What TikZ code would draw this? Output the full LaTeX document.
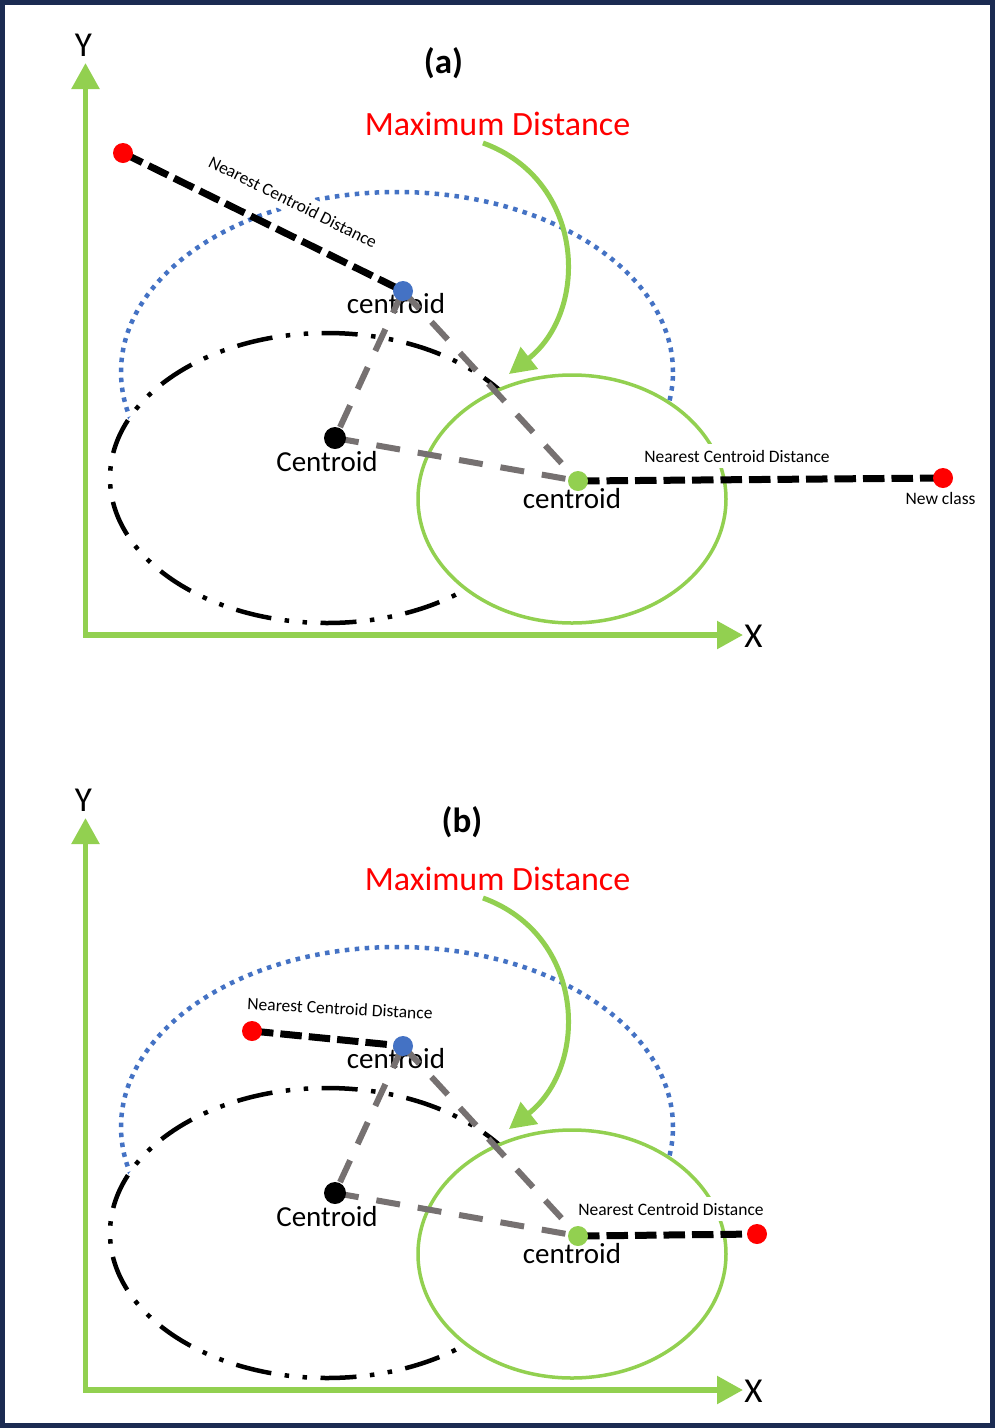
\documentclass[tikz,border=0pt]{standalone}
\usepackage{fontspec}
\setmainfont{Carlito}
\usetikzlibrary{arrows.meta}
\definecolor{framecol}{RGB}{27,43,82}
\definecolor{mygreen}{RGB}{146,208,80}
\definecolor{myblue}{RGB}{68,114,196}
\definecolor{mygray}{RGB}{118,113,113}
\newcommand{\panelbase}[1]{%
  \draw[blueell] (397,372) ellipse [x radius=276pt, y radius=180pt];
  \draw[blackell] (327,478) ellipse [x radius=217pt, y radius=145pt];
  \draw[greenell] (572,499) ellipse [x radius=154pt, y radius=124pt];
  \coordinate (#1o) at (85.5,635);
  \coordinate (#1yt) at (85.5,63);
  \coordinate (#1xt) at (743,635);
  \draw[axisline] (#1yt) -- (#1o) -- (#1xt);
  \node[axlbl] (#1Y) at (83.5,45) {Y};
  \node[axlbl] (#1X) at (753.5,636.5) {X};
  \node[maxlbl] (#1max) at (497.5,124) {Maximum Distance};
  \coordinate (#1ms) at (483,143);
  \coordinate (#1me) at (509,374);
  \draw[maxarrow] (#1ms) .. controls (585,180) and (590,310) .. (#1me);
  \coordinate (#1blue) at (403,291);
  \coordinate (#1cent) at (335,438);
  \coordinate (#1green) at (578,481);
  \node[lbl] (#1lblue) at (396,304) {centroid};
  \node[lbl] (#1lgreen) at (572,499) {centroid};
  \node[lbl] (#1lcent) at (327,462) {Centroid};
  \draw[graydash] (#1blue) -- (#1cent);
  \draw[graydash] (#1cent) -- (#1green);
  \draw[graydash] (#1blue) -- (#1green);
}
\newcommand{\paneldots}[1]{%
  \node[dot, fill=myblue] (#1bluedot) at (#1blue) {};
  \node[dot, fill=black, minimum size=22pt] (#1centdot) at (#1cent) {};
  \node[dot, fill=mygreen] (#1greendot) at (#1green) {};
}
\begin{document}
\begin{tikzpicture}[x=1pt,y=-1pt,
  axisline/.style={mygreen, line width=5.5pt, line join=miter,
    {Triangle[width=27pt,length=26pt]}-{Triangle[width=27pt,length=26pt]}},
  maxarrow/.style={mygreen, line width=5pt, -{Triangle[width=27pt,length=26pt]}},
  blueell/.style={myblue, line width=4.5pt, dash pattern=on 4.5pt off 5.5pt},
  blackell/.style={black, line width=4.5pt, fill=white,
    dash pattern=on 36pt off 13.5pt on 4.5pt off 13.5pt on 4.5pt off 13.5pt},
  greenell/.style={mygreen, line width=3.5pt, fill=white},
  graydash/.style={mygray, line width=6pt, dash pattern=on 24pt off 18pt},
  blackdash/.style={black, line width=7pt, dash pattern=on 21.5pt off 7pt},
  dot/.style={circle, inner sep=0pt, minimum size=20pt, draw=none},
  lbl/.style={inner sep=0pt, font=\fontsize{29}{32}\selectfont},
  small/.style={inner xsep=4pt, inner ysep=6pt, fill=white, font=\fontsize{17.5}{20}\selectfont},
  smallplain/.style={inner sep=0pt, font=\fontsize{17.5}{20}\selectfont},
  maxlbl/.style={inner sep=0pt, text=red, font=\fontsize{34}{38}\selectfont},
  axlbl/.style={inner sep=0pt, font=\fontsize{35}{40}\selectfont},
  ttl/.style={inner sep=0pt, font=\fontsize{35}{40}\selectfont\bfseries}
]
\useasboundingbox (0,0) rectangle (995,1428);
\fill[white] (0,0) rectangle (995,1428);

% ---------- panel (a)
\begin{scope}
  \panelbase{a}
  \node[ttl] (atitle) at (443.5,63.5) {(a)};
  \node[small, rotate=-26.5] (alab1) at (293,202) {Nearest Centroid Distance};
  \node[small] (alab2) at (737,456) {Nearest Centroid Distance};
  \coordinate (ared) at (123,153);
  \coordinate (anew) at (943,478);
  \draw[blackdash] (ared) -- (ablue);
  \draw[blackdash] (agreen) -- (anew);
  \paneldots{a}
  \node[dot, fill=red] (areddot) at (ared) {};
  \node[dot, fill=red] (anewdot) at (anew) {};
  \node[smallplain] (alabnew) at (940.5,498.5) {New class};
\end{scope}

% ---------- panel (b)
\begin{scope}[shift={(0,755)}]
  \panelbase{b}
  \node[ttl] (btitle) at (462,67) {(b)};
  \node[small, rotate=-3] (blab1) at (340,253.5) {Nearest Centroid Distance};
  \node[small] (blab2) at (671,454) {Nearest Centroid Distance};
  \coordinate (bred) at (252,276);
  \coordinate (bnew) at (757,479);
  \draw[blackdash] (bred) -- (bblue);
  \draw[blackdash] (bgreen) -- (bnew);
  \paneldots{b}
  \node[dot, fill=red] (breddot) at (bred) {};
  \node[dot, fill=red] (bnewdot) at (bnew) {};
\end{scope}

\draw[framecol, line width=5pt] (2.5,2.5) rectangle (992.5,1425.5);
\end{tikzpicture}
\end{document}
